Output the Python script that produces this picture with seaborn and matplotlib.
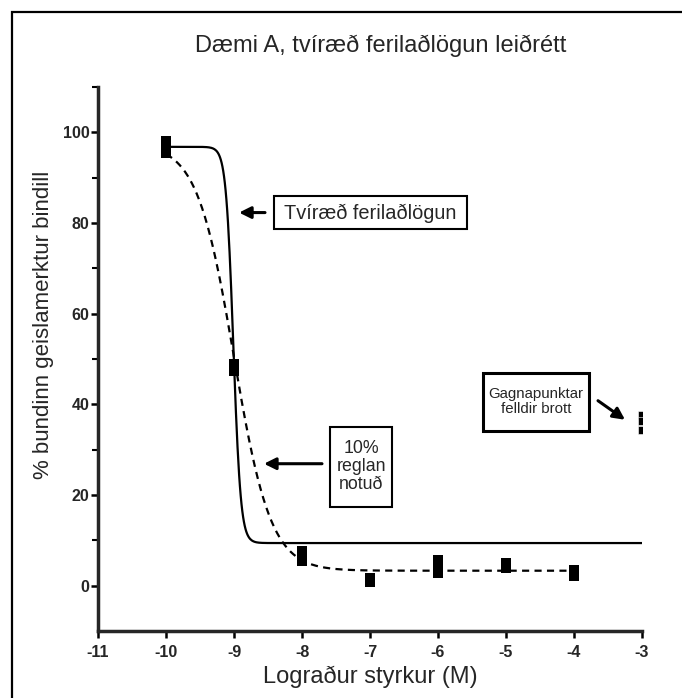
import numpy as np
import pandas as pd
import matplotlib
matplotlib.use("Agg")
import matplotlib.pyplot as plt
from matplotlib.patches import Rectangle
import seaborn as sns

# ---- data ----
log_conc = [-10, -10, -10, -9, -9, -8, -8, -8, -7, -7, -6, -6, -6, -5, -5, -4, -4]
bound_pct = [98.0, 96.8, 95.5, 49.0, 47.3, 7.6, 6.5, 5.4, 1.8, 0.8, 5.6, 4.2, 2.8, 4.9, 3.9, 3.4, 2.1]

excluded_conc = [-3, -3, -3]
excluded_pct = [37.6, 36.3, 34.4]

# fitted sigmoid parameters (top, bottom, logIC50, Hill slope, x range)
ambiguous_fit = dict(top=96.8, bottom=9.4, logic50=-9.01, hill=8.0, x0=-10, x1=-3)
ten_pct_fit = dict(top=97.5, bottom=3.3, logic50=-9.0, hill=1.6, x0=-10, x1=-4)

title = "Dæmi A, tvíræð ferilaðlögun leiðrétt"
xlabel = "Lograður styrkur (M)"
ylabel = "% bundinn geislamerktur bindill"
xticks = [-11, -10, -9, -8, -7, -6, -5, -4, -3]
yticks = [0, 20, 40, 60, 80, 100]
note_fit = "Tvíræð ferilaðlögun"
note_rule = "10%\nreglan\nnotuð"
note_drop = "Gagnapunktar\nfelldir brott"


def sigmoid(p, n=600):
    x = np.linspace(p["x0"], p["x1"], n)
    y = p["bottom"] + (p["top"] - p["bottom"]) / (1 + 10 ** ((x - p["logic50"]) * p["hill"]))
    return pd.DataFrame({"x": x, "y": y})


sns.set_style("ticks")
plt.rcParams["font.family"] = ["Liberation Sans", "DejaVu Sans"]

fig = plt.figure(figsize=(6.82, 6.98), dpi=100)
ax = fig.add_axes([98 / 682, 1 - 631 / 698, 544 / 682, 544 / 698])

# outer frame (left and top visible)
fig.patches.append(Rectangle((12 / 682, -0.1), 1.2, 1 - 12 / 698 + 0.1,
                             transform=fig.transFigure, fill=False,
                             edgecolor="black", linewidth=1.6, zorder=0))

solid = sigmoid(ambiguous_fit)
dashed = sigmoid(ten_pct_fit)
sns.lineplot(data=solid, x="x", y="y", ax=ax, color="black", linewidth=1.6,
             estimator=None, sort=False)
sns.lineplot(data=dashed, x="x", y="y", ax=ax, color="black", linewidth=1.6,
             estimator=None, sort=False, linestyle=(0, (3.2, 2.4)))

pts = pd.DataFrame({"x": log_conc, "y": bound_pct})
sns.scatterplot(data=pts, x="x", y="y", ax=ax, marker="s", s=42, color="black",
                edgecolor="black", linewidth=0, zorder=5)
exc = pd.DataFrame({"x": excluded_conc, "y": excluded_pct})
sns.scatterplot(data=exc, x="x", y="y", ax=ax, marker="s", s=36, color="black",
                edgecolor="white", linewidth=0.4, zorder=5)

ax.set_xlim(-11, -3)
ax.set_ylim(-10, 110)
ax.set_xticks(xticks)
ax.set_xticklabels([str(t) for t in xticks])
ax.set_yticks(yticks)
ax.set_yticks([10, 30, 50, 70, 90, 110], minor=True)
ax.set_yticklabels([str(t) for t in yticks])
for lab in ax.get_xticklabels() + ax.get_yticklabels():
    lab.set_fontweight("bold")
    lab.set_fontsize(11.5)
ax.tick_params(axis="both", which="major", length=5, width=1.8, color="black")
ax.tick_params(axis="y", which="major", pad=1)
ax.tick_params(axis="x", which="major", pad=5)
ax.tick_params(axis="y", which="minor", length=4, width=1.5, color="black")
sns.despine(ax=ax)
ax.spines["left"].set_linewidth(2.5)
ax.spines["bottom"].set_linewidth(2.5)

ax.set_xlabel("")
ax.set_ylabel("")
fig.text(370 / 682, 1 - 677 / 698, xlabel, ha="center", va="center", fontsize=17)
fig.text(44 / 682, 1 - 325 / 698, ylabel, ha="center", va="center", fontsize=16,
         rotation=90)
fig.text(381 / 682, 1 - 46 / 698, title, ha="center", va="center", fontsize=17)

# annotation boxes
def box(x0, x1, y0, y1, lw):
    ax.add_patch(Rectangle((x0, y0), x1 - x0, y1 - y0, fill=True, facecolor="white",
                           edgecolor="black", linewidth=lw, zorder=6, clip_on=False))

box(-8.412, -5.574, 78.6, 85.9, 1.5)
ax.text(-6.99, 82.2, note_fit, ha="center", va="center", fontsize=14.4, zorder=7)
box(-7.588, -6.676, 17.4, 35.1, 1.5)
ax.text(-7.13, 26.3, note_rule, ha="center", va="center", fontsize=12.8,
        linespacing=1.1, zorder=7)
box(-5.338, -3.779, 34.2, 47.0, 2.2)
ax.text(-4.56, 40.6, note_drop, ha="center", va="center", fontsize=10.8,
        linespacing=1.1, zorder=7)

arrow = dict(arrowstyle="-|>,head_length=0.7,head_width=0.35", color="black",
             linewidth=2.2, shrinkA=0, shrinkB=0)
ax.annotate("", xy=(-8.926, 82.3), xytext=(-8.544, 82.3), arrowprops=arrow)
ax.annotate("", xy=(-8.559, 26.9), xytext=(-7.706, 26.9), arrowprops=arrow)
ax.annotate("", xy=(-3.25, 36.6), xytext=(-3.647, 40.8), arrowprops=arrow)

fig.savefig("out.png", dpi=100)
